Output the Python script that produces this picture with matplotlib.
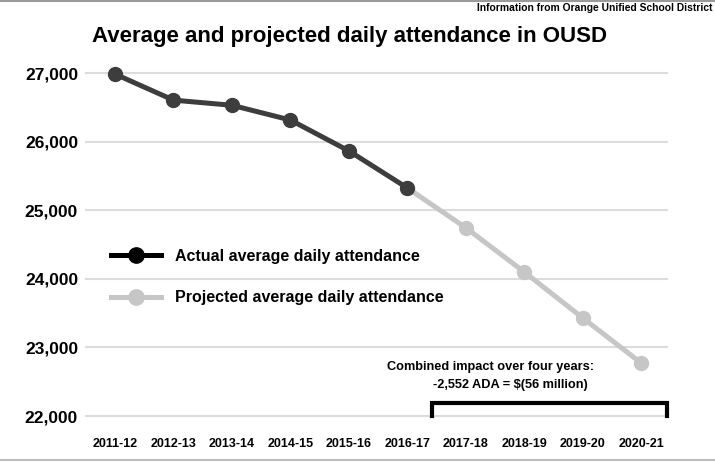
import matplotlib
matplotlib.use("Agg")
import matplotlib.pyplot as plt
from matplotlib.lines import Line2D
from matplotlib.ticker import FuncFormatter

plt.rcParams['font.family'] = ['Liberation Sans Narrow', 'Liberation Sans', 'DejaVu Sans']
plt.rcParams['font.weight'] = 'bold'

# データ
years = ["2011-12", "2012-13", "2013-14", "2014-15", "2015-16",
         "2016-17", "2017-18", "2018-19", "2019-20", "2020-21"]
actual = [26985, 26605, 26530, 26315, 25865, 25325]
projected = [25325, 24745, 24100, 23430, 22773]
yticks = [22000, 23000, 24000, 25000, 26000, 27000]

DARK = "#3d3d3d"
LIGHT = "#c6c6c6"

fig = plt.figure(figsize=(7.15, 4.63), dpi=100)
ax = fig.add_axes([0.1189, 0.0929, 0.8154, 0.7775])

x_act = list(range(len(actual)))
x_proj = list(range(len(actual) - 1, len(years)))

ax.plot(x_proj, projected, "-o", color=LIGHT, lw=3.6, ms=10, zorder=3, clip_on=False)
ax.plot(x_act, actual, "-o", color=DARK, lw=3.6, ms=10, zorder=4, clip_on=False)

ax.set_xlim(-0.513, 9.46)
ax.set_ylim(21942, 27190)
ax.set_yticks(yticks)
ax.yaxis.set_major_formatter(FuncFormatter(lambda v, p: f"{int(v):,}"))
ax.set_xticks(range(len(years)))
ax.set_xticklabels(years)
ax.grid(axis="y", color="#dcdcdc", lw=1.5)
ax.set_axisbelow(True)
for s in ax.spines.values():
    s.set_visible(False)
ax.tick_params(axis="y", length=0, labelsize=12.5, pad=5)
ax.tick_params(axis="x", length=0, labelsize=9, pad=13)
for lab in ax.get_yticklabels() + ax.get_xticklabels():
    lab.set_fontweight("bold")

# 凡例
handles = [
    Line2D([], [], color="black", lw=3.6, marker="o", ms=11),
    Line2D([], [], color=LIGHT, lw=3.6, marker="o", ms=11),
]
leg = ax.legend(handles, ["Actual average daily attendance",
                          "Projected average daily attendance"],
                loc="upper left", bbox_to_anchor=(0.02, 0.515), frameon=False,
                prop={"size": 11.5, "weight": "bold"}, handlelength=3.1,
                labelspacing=1.65, handletextpad=0.9)

# 4年間の影響 (ブラケット)
b_left, b_right = 5.42, 9.45
b_top = 22185
ax.plot([b_left, b_left, b_right, b_right], [22000, b_top, b_top, 22000],
        color="black", lw=3, solid_joinstyle="miter", zorder=5, clip_on=False)
ax.text(6.42, 22710, "Combined impact over four years:", ha="center", va="center",
        fontsize=9.2, fontweight="bold")
ax.text(6.76, 22450, "-2,552 ADA = $(56 million)", ha="center", va="center",
        fontsize=9.2, fontweight="bold")

fig.text(0.128, 0.922, "Average and projected daily attendance in OUSD",
         ha="left", va="center", fontsize=16, fontweight="bold")
fig.text(0.996, 0.982, "Information from Orange Unified School District",
         ha="right", va="center", fontsize=7.4, fontweight="bold")

# 上下の枠線
fig.add_artist(Line2D([0, 1], [0.997, 0.997], color="#9a9a9a", lw=1.5))
fig.add_artist(Line2D([0, 1], [0.006, 0.006], color="#bdbdbd", lw=1.5))

plt.savefig("out.png", dpi=100)
